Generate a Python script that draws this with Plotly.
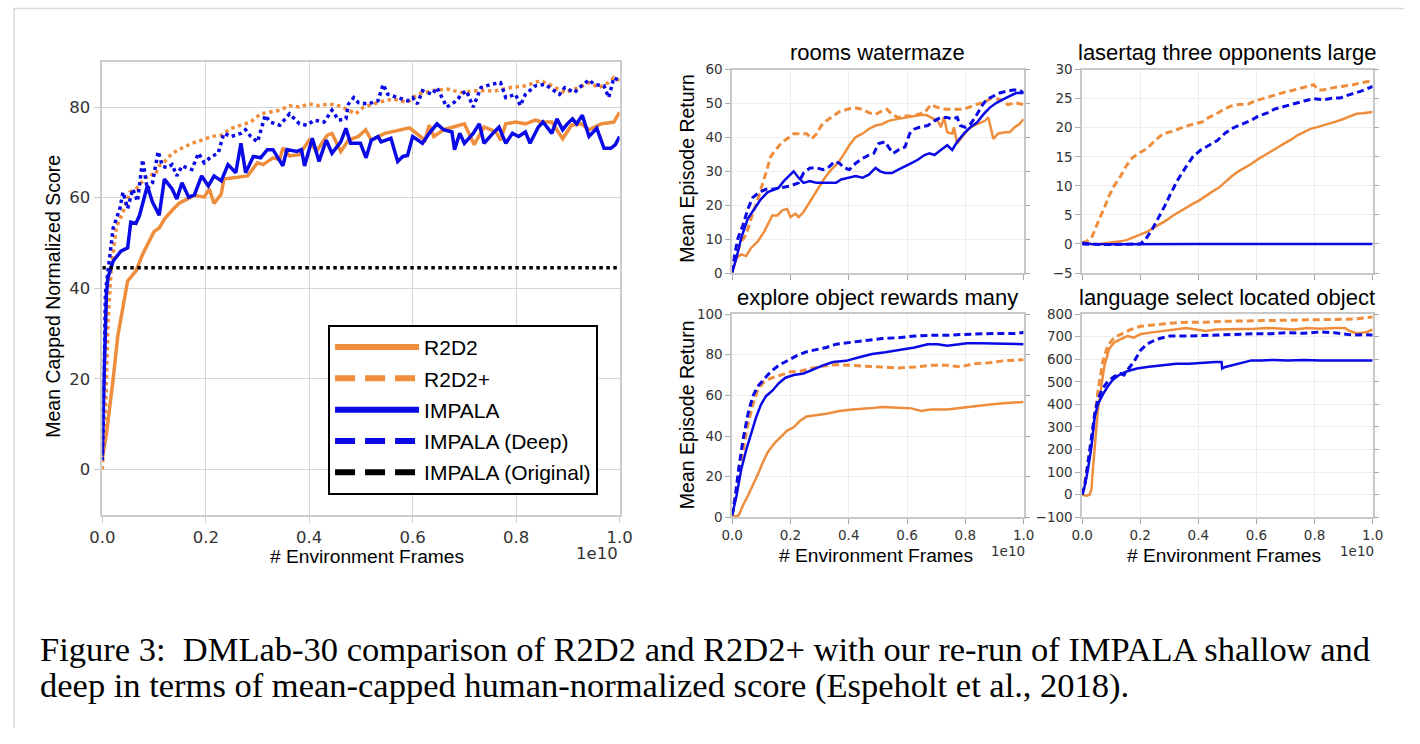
import plotly.graph_objects as go

# The page body keeps the browser's default 8px margin, so the figure is 16px smaller
# than the 1420x744 window and all reference pixel positions are shifted by that margin.
PAGE_W, PAGE_H, BODY_MARGIN = 1420, 744, 8
W, H = PAGE_W - 2 * BODY_MARGIN, PAGE_H - 2 * BODY_MARGIN
ORANGE = '#EE8E3D'
BLUE = '#0A0AE6'

# ---------------- data (x in units of 1e10 environment frames) ----------------
MAIN_R2D2 = [(0, 2.4), (.008, 7.8), (.021, 20), (.030, 29.5), (.049, 41.6), (.065, 43.8), (.078, 47.5),
             (.091, 50.3), (.10, 52.5), (.11, 53.3), (.121, 55.4), (.135, 57.2), (.148, 58.7), (.159, 59.4),
             (.178, 60.5), (.197, 60.1), (.207, 61.9), (.216, 58.7), (.23, 60.8), (.235, 64.1), (.254, 64.4),
             (.281, 64.8), (.30, 67.7), (.311, 67.3), (.33, 68.8), (.343, 68.4), (.349, 71), (.362, 69.2),
             (.381, 69.5), (.40, 72.7), (.414, 70.2), (.435, 73.8), (.444, 74.2), (.461, 70.2), (.476, 72.7),
             (.495, 73.5), (.509, 75), (.52, 72.7), (.546, 74.2), (.584, 75), (.594, 75.4), (.624, 72.7),
             (.632, 76), (.641, 73.5), (.66, 75), (.70, 76.3), (.719, 71.7), (.738, 75.6), (.761, 74.5),
             (.77, 72.7), (.78, 76.3), (.799, 76.7), (.818, 76.3), (.837, 77.1), (.85, 76.7), (.869, 76.7),
             (.89, 73), (.907, 76), (.926, 76.3), (.941, 75), (.964, 76.3), (.989, 76.7), (1.0, 78.9)]

MAIN_R2D2_PLUS = [(0, 0), (.006, 12), (.011, 32.3), (.017, 44), (.027, 53.3), (.04, 56.8), (.053, 61.2),
                  (.065, 61.9), (.078, 63.7), (.091, 65.2), (.102, 65), (.11, 67), (.121, 68), (.135, 69.8),
                  (.148, 70.6), (.159, 71.3), (.173, 72), (.192, 72.7), (.211, 73.5), (.23, 73.8), (.249, 75.3),
                  (.268, 76), (.287, 76.7), (.306, 78.5), (.324, 78.9), (.343, 79.3), (.362, 80.3), (.381, 80),
                  (.40, 80.7), (.419, 80.3), (.438, 80.7), (.457, 80.3), (.476, 79.3), (.49, 78.5), (.505, 80),
                  (.533, 81), (.562, 81.8), (.59, 81), (.609, 82.8), (.638, 83.6), (.666, 84), (.694, 83.2),
                  (.723, 83.6), (.761, 83.6), (.789, 84.3), (.818, 84.7), (.846, 85.8), (.865, 85), (.894, 83.2),
                  (.922, 84.3), (.941, 85.4), (.96, 84.3), (.979, 85.4), (.989, 86.5), (1.0, 85.8)]

MAIN_IMPALA = [(0, 3), (.002, 15), (.008, 38.8), (.011, 42.4), (.021, 46), (.036, 48.2), (.049, 48.9),
               (.055, 54.6), (.065, 54.3), (.072, 56.1), (.087, 62.6), (.097, 59), (.11, 56.1), (.12, 64.1),
               (.135, 61.9), (.144, 59.7), (.154, 63.3), (.167, 60.1), (.178, 60.6), (.192, 64.8), (.205, 62.6),
               (.216, 64.8), (.23, 63.7), (.243, 67.3), (.258, 65.5), (.268, 72), (.277, 65.5), (.292, 69.1),
               (.306, 68.8), (.319, 70.6), (.33, 70.6), (.349, 67), (.357, 70.6), (.376, 70.2), (.385, 70.6),
               (.391, 67), (.406, 73.1), (.419, 68), (.433, 72.7), (.444, 69.8), (.461, 72.3), (.471, 75.3),
               (.48, 72), (.499, 72), (.51, 68.8), (.52, 72.7), (.533, 73.5), (.539, 72.3), (.558, 73.1),
               (.571, 68), (.581, 69.1), (.59, 69.3), (.60, 73.5), (.619, 72), (.632, 74.2), (.647, 76.3),
               (.66, 75), (.676, 74.5), (.681, 70.6), (.691, 74.2), (.70, 72), (.717, 74.2), (.729, 76.3),
               (.738, 72), (.755, 74.2), (.767, 75.6), (.78, 72), (.793, 74.2), (.805, 73.5), (.818, 74.5),
               (.827, 72), (.843, 75.6), (.852, 76.7), (.869, 74.2), (.879, 77.4), (.89, 75), (.899, 76.3),
               (.909, 77.4), (.917, 76.3), (.928, 78.2), (.941, 73.5), (.956, 75.3), (.97, 70.9), (.983, 70.9),
               (.992, 71.7), (1.0, 73.5)]

MAIN_IMPALA_DEEP = [(0, 2), (.002, 10.6), (.006, 38.8), (.008, 41), (.021, 53.3), (.034, 57.6), (.04, 61.2),
                    (.049, 57.6), (.059, 61.9), (.068, 59.2), (.078, 68.4), (.087, 61.9), (.097, 63.3),
                    (.108, 70.2), (.116, 67), (.125, 66.6), (.135, 67.3), (.144, 64.8), (.154, 67), (.173, 66.2),
                    (.186, 69.8), (.197, 67.7), (.211, 69.1), (.224, 69.8), (.235, 74.2), (.249, 73.5),
                    (.268, 74.2), (.277, 75), (.287, 73.5), (.30, 72.3), (.315, 78.2), (.324, 76.7), (.343, 76),
                    (.362, 78.5), (.381, 76.3), (.395, 76), (.41, 77.1), (.429, 76.7), (.444, 79.3), (.457, 77.1),
                    (.471, 77.4), (.476, 80.7), (.486, 82.1), (.495, 81), (.514, 80.7), (.533, 81.4), (.543, 85),
                    (.552, 82.8), (.571, 82.1), (.59, 81.4), (.60, 82.1), (.609, 80.7), (.619, 83.6), (.638, 82.8),
                    (.647, 84.3), (.657, 82.1), (.666, 80), (.685, 81.4), (.694, 82.8), (.704, 83.6), (.717, 80),
                    (.732, 84.3), (.751, 85), (.77, 85.4), (.78, 82.1), (.799, 82.8), (.808, 80.3), (.818, 82.8),
                    (.837, 84.7), (.856, 85), (.875, 83.6), (.884, 82.8), (.894, 84.3), (.913, 83.2), (.922, 84.3),
                    (.941, 86), (.951, 85), (.97, 84.7), (.979, 82.1), (.989, 86.5), (1.0, 85.8)]

MAIN_IMPALA_ORIGINAL = [(0.0, 44.5), (1.0, 44.5)]

# rooms watermaze
WM_R2D2 = [(0, .2), (.015, 4.5), (.031, 5.5), (.048, 5), (.065, 7.4), (.088, 9.3), (.11, 12.2), (.127, 15.1),
           (.138, 17), (.155, 17), (.172, 18.5), (.189, 18.9), (.2, 16.5), (.217, 17.5), (.228, 16.5), (.245, 18),
           (.262, 20.4), (.278, 22.8), (.301, 25.7), (.318, 28.1), (.34, 30.5), (.363, 32.4), (.385, 35.3),
           (.402, 37.7), (.424, 40.1), (.447, 41.1), (.469, 42.5), (.492, 43.5), (.514, 43.9), (.536, 44.9),
           (.565, 45.4), (.593, 45.9), (.626, 46.3), (.649, 46.6), (.666, 46.6), (.682, 45.9), (.705, 44.9),
           (.716, 43), (.727, 45.9), (.738, 41.5), (.755, 41.1), (.761, 43), (.772, 38.2), (.789, 40.1),
           (.806, 42), (.828, 43.5), (.851, 44.4), (.868, 44.9), (.879, 45.9), (.896, 39.6), (.912, 41.1),
           (.935, 41.5), (.952, 41.5), (.969, 43), (.985, 43.9), (1.0, 45.4)]
WM_R2D2_PLUS = [(0, .2), (.015, 5.5), (.031, 9.3), (.048, 11.3), (.065, 16.1), (.088, 21.8), (.116, 29.5),
                (.132, 34.3), (.149, 36.3), (.172, 38.7), (.189, 39.6), (.211, 41.1), (.233, 41.1), (.256, 41.1),
                (.273, 39.6), (.29, 41.1), (.306, 43.5), (.323, 44.9), (.346, 46.3), (.368, 47.6), (.396, 48.3),
                (.419, 48.8), (.447, 48.3), (.469, 47.3), (.492, 46.8), (.514, 47.8), (.531, 48.3), (.548, 46.8),
                (.57, 45.9), (.593, 46.3), (.615, 46.3), (.637, 46.8), (.66, 47.3), (.682, 49.7), (.705, 48.8),
                (.733, 48.3), (.761, 48.3), (.783, 48.3), (.811, 48.8), (.834, 49.7), (.862, 50.2), (.89, 51.6),
                (.918, 51.2), (.946, 49.7), (.974, 50.2), (1.0, 49.7)]
WM_IMPALA = [(0, .2), (.015, 4.5), (.031, 10.3), (.054, 16.1), (.076, 18.9), (.099, 21.8), (.121, 23.8),
             (.144, 24.7), (.16, 25.2), (.177, 27.1), (.194, 28.6), (.211, 30), (.228, 28.1), (.245, 26.6),
             (.267, 27.1), (.29, 26.6), (.312, 26.6), (.334, 26.6), (.357, 26.6), (.374, 27.6), (.402, 28.1),
             (.424, 28.6), (.447, 28.1), (.469, 29), (.492, 31), (.508, 30), (.525, 29.5), (.548, 29.5),
             (.57, 30.5), (.593, 31.4), (.615, 32.4), (.637, 33.4), (.66, 34.8), (.677, 35.3), (.694, 34.8),
             (.716, 36.3), (.738, 37.7), (.755, 36.3), (.772, 38.7), (.795, 41.1), (.817, 43), (.84, 44.4),
             (.862, 46.8), (.884, 48.8), (.907, 50.2), (.929, 51.2), (.952, 52.1), (.974, 53.1), (1.0, 53.1)]
WM_IMPALA_DEEP = [(0, .2), (.009, 5.5), (.02, 10.3), (.037, 14.1), (.054, 18.9), (.071, 22.3), (.093, 23.8),
                  (.116, 24.7), (.138, 24.7), (.166, 25.2), (.2, 25.7), (.228, 26.6), (.245, 29.5), (.267, 31),
                  (.29, 31), (.312, 30.5), (.334, 31.4), (.351, 32.9), (.368, 32.4), (.385, 31), (.402, 30.5),
                  (.424, 32.4), (.447, 33.8), (.469, 34.8), (.486, 35.3), (.503, 38.2), (.525, 38.7), (.536, 37.2),
                  (.553, 35.3), (.57, 36.3), (.593, 37.2), (.609, 41.1), (.626, 42.5), (.643, 43), (.671, 43.5),
                  (.694, 44.9), (.716, 45.9), (.738, 45.9), (.755, 45.4), (.772, 45.9), (.783, 43.5), (.8, 43),
                  (.817, 43.9), (.834, 45.9), (.856, 49.2), (.873, 51.2), (.896, 52.1), (.918, 53.1), (.941, 53.6),
                  (.963, 54), (.985, 54), (1.0, 53.1)]

# lasertag three opponents large
LT_R2D2 = [(0, .2), (.032, 0), (.065, .05), (.099, .2), (.133, .45), (.155, .7), (.178, 1.1), (.2, 1.6),
           (.223, 2.1), (.245, 2.7), (.268, 3.4), (.291, 4.1), (.313, 4.9), (.336, 5.6), (.358, 6.3), (.381, 6.9),
           (.403, 7.5), (.426, 8.3), (.448, 9), (.471, 9.7), (.493, 10.7), (.516, 11.7), (.538, 12.5),
           (.561, 13.1), (.583, 13.8), (.606, 14.6), (.628, 15.3), (.651, 16), (.673, 16.6), (.696, 17.3),
           (.718, 17.9), (.741, 18.7), (.764, 19.2), (.786, 19.8), (.809, 20.1), (.831, 20.4), (.854, 20.8),
           (.876, 21.1), (.899, 21.5), (.921, 22), (.944, 22.4), (.966, 22.5), (1.0, 22.7)]
LT_R2D2_PLUS = [(0, .2), (.015, .45), (.032, 1), (.043, 2.4), (.06, 4.4), (.077, 6.3), (.093, 8.3), (.11, 10),
                (.133, 11.7), (.15, 13.3), (.172, 14.8), (.195, 15.6), (.223, 16.4), (.251, 17.8), (.279, 19),
                (.313, 19.4), (.347, 20.1), (.381, 20.6), (.414, 21), (.437, 21.8), (.459, 22.3), (.482, 23),
                (.51, 23.7), (.538, 24), (.572, 24.1), (.595, 24.6), (.628, 25.1), (.662, 25.7), (.696, 26.1),
                (.73, 26.5), (.764, 26.9), (.797, 27.4), (.814, 26.5), (.831, 26.5), (.865, 26.9), (.899, 27.1),
                (.932, 27.4), (.966, 27.8), (1.0, 28.1)]
LT_IMPALA = [(0, .2), (.03, 0), (.1, -.05), (.2, 0), (.4, 0), (.6, 0), (.8, 0), (1.0, 0)]
LT_IMPALA_DEEP = [(0, 0), (.088, -.1), (.2, 0), (.217, .7), (.24, 2.4), (.262, 4.4), (.285, 6.6), (.307, 8.9),
                  (.33, 11.1), (.358, 13.3), (.381, 15), (.409, 16.2), (.437, 17), (.465, 17.8), (.493, 19.1),
                  (.521, 20), (.55, 20.6), (.583, 21.3), (.606, 22), (.64, 22.6), (.662, 23.2), (.696, 23.7),
                  (.73, 24.1), (.764, 24.6), (.797, 25), (.831, 24.8), (.865, 25.1), (.887, 25.1), (.921, 25.7),
                  (.955, 26.2), (1.0, 27.1)]

# explore object rewards many
EX_R2D2 = [(0, 1), (.009, .2), (.023, 1), (.037, 5.8), (.054, 10.6), (.071, 15.4), (.088, 21), (.104, 26.6),
           (.121, 31.8), (.144, 36.3), (.166, 39.5), (.189, 42.7), (.211, 44.3), (.233, 47.5), (.256, 49.6),
           (.29, 50.2), (.323, 51), (.368, 52.3), (.413, 53.1), (.469, 53.6), (.514, 54.3), (.57, 53.9),
           (.615, 53.6), (.649, 52.3), (.682, 53.1), (.738, 53.1), (.783, 53.9), (.828, 54.7), (.884, 55.5),
           (.941, 56.3), (1.0, 56.7)]
EX_R2D2_PLUS = [(0, 1), (.011, 9), (.022, 20.2), (.037, 33), (.054, 45.9), (.071, 55.5), (.088, 62.8),
                (.11, 66.8), (.138, 68.7), (.166, 70), (.2, 71.6), (.233, 71.9), (.267, 73.2), (.312, 74.5),
                (.357, 75.1), (.402, 74.8), (.458, 74.3), (.514, 74), (.57, 73.5), (.626, 74), (.682, 74.8),
                (.738, 74.8), (.783, 74), (.828, 75.6), (.884, 76.1), (.941, 77.2), (1.0, 77.5)]
EX_IMPALA = [(0, 1), (.015, 10.6), (.031, 23.4), (.048, 33), (.065, 41.1), (.082, 49.1), (.099, 55.5),
             (.116, 59.6), (.138, 62.3), (.16, 66), (.183, 68.7), (.211, 70), (.245, 70.8), (.278, 72.9),
             (.312, 74.8), (.346, 76.4), (.391, 77), (.436, 78.8), (.48, 80.4), (.525, 81.2), (.581, 82.5),
             (.626, 83.6), (.671, 85.2), (.705, 85.2), (.738, 84.4), (.772, 85.2), (.806, 85.7), (.851, 85.7),
             (.896, 85.6), (.941, 85.7), (1.0, 85.2)]
EX_IMPALA_DEEP = [(0, 1), (.011, 10.6), (.022, 23.4), (.037, 37.9), (.054, 50.7), (.071, 59.6), (.088, 64.4),
                  (.11, 68), (.132, 71.6), (.16, 74.8), (.189, 77.2), (.222, 79.6), (.256, 81.5), (.29, 82.5),
                  (.323, 83.6), (.357, 85.2), (.402, 86), (.458, 86.8), (.514, 88), (.57, 88.4), (.626, 89.2),
                  (.682, 89.6), (.738, 89.6), (.795, 90), (.851, 90.4), (.907, 90.5), (.963, 90.4), (1.0, 90.9)]

# language select located object
LS_R2D2 = [(0, 0), (.015, -5), (.026, 0), (.032, 24), (.037, 111), (.045, 255), (.054, 371), (.065, 472),
           (.077, 573), (.093, 645), (.11, 674), (.133, 689), (.155, 703), (.178, 696), (.2, 711), (.234, 718),
           (.279, 725), (.324, 732), (.358, 739), (.392, 732), (.426, 725), (.459, 732), (.505, 732), (.55, 732),
           (.595, 735), (.64, 739), (.685, 735), (.73, 732), (.775, 739), (.82, 735), (.865, 739), (.904, 739),
           (.921, 725), (.944, 715), (.966, 718), (.983, 722), (1.0, 732)]
LS_R2D2_PLUS = [(0, 0), (.009, 53), (.02, 140), (.032, 226), (.043, 342), (.056, 472), (.071, 588), (.088, 660),
                (.11, 696), (.133, 711), (.167, 732), (.2, 746), (.257, 754), (.313, 761), (.369, 764),
                (.426, 764), (.482, 768), (.595, 771), (.707, 775), (.82, 775), (.932, 778), (1.0, 787)]
LS_IMPALA = [(0, 0), (.009, 39), (.02, 111), (.032, 212), (.043, 342), (.054, 400), (.071, 443), (.088, 479),
             (.105, 508), (.127, 530), (.155, 547), (.189, 559), (.223, 566), (.257, 570), (.291, 577),
             (.324, 580), (.369, 580), (.414, 585), (.459, 588), (.48, 588), (.482, 559), (.493, 566),
             (.516, 573), (.55, 585), (.583, 595), (.617, 595), (.662, 597), (.707, 595), (.764, 597),
             (.82, 595), (.876, 595), (.932, 597), (1.0, 595)]
LS_IMPALA_DEEP = [(0, 0), (.009, 39), (.02, 140), (.032, 255), (.043, 356), (.054, 421), (.071, 472),
                  (.088, 501), (.11, 523), (.133, 537), (.144, 530), (.155, 551), (.178, 588), (.2, 638),
                  (.223, 667), (.257, 689), (.302, 703), (.369, 703), (.426, 706), (.482, 707), (.538, 710),
                  (.595, 713), (.651, 713), (.707, 718), (.764, 715), (.82, 721), (.865, 718), (.899, 711),
                  (.932, 707), (.966, 709), (1.0, 707)]

SERIES_NAMES = ['R2D2', 'R2D2+', 'IMPALA', 'IMPALA (Deep)', 'IMPALA (Original)']
SUBPLOT_TITLES = ['rooms watermaze', 'lasertag three opponents large',
                  'explore object rewards many', 'language select located object']
X_TICKS = [0, 0.2, 0.4, 0.6, 0.8, 1.0]
X_TICKTEXT = ['0.0', '0.2', '0.4', '0.6', '0.8', '1.0']
MAIN_Y_TICKS = [0, 20, 40, 60, 80]
WM_Y_TICKS = [0, 10, 20, 30, 40, 50, 60]
LT_Y_TICKS = [-5, 0, 5, 10, 15, 20, 25, 30]
EX_Y_TICKS = [0, 20, 40, 60, 80, 100]
LS_Y_TICKS = [-100, 0, 100, 200, 300, 400, 500, 600, 700, 800]
CAPTION_LINE1 = 'Figure 3:\u00a0 DMLab-30 comparison of R2D2 and R2D2+ with our re-run of IMPALA shallow and'
CAPTION_LINE2 = 'deep in terms of mean-capped human-normalized score (Espeholt et al., 2018).'


# ---------------- layout helpers (arguments are page pixels) ----------------
def PX(x):
    return (x - BODY_MARGIN) / W


def PY(y):
    return 1 - (y - BODY_MARGIN) / H


SANS = 'Liberation Sans, Arial, sans-serif'
TICKF = 'DejaVu Sans, sans-serif'
SERIF = 'Liberation Serif, Times New Roman, serif'

fig = go.Figure()


def add_line(data, color, width, dash, xa, ya):
    xs = [p[0] for p in data]
    ys = [p[1] for p in data]
    fig.add_trace(go.Scatter(x=xs, y=ys, mode='lines', xaxis=xa, yaxis=ya, showlegend=False,
                             hoverinfo='skip', line=dict(color=color, width=width, dash=dash)))


# main chart
add_line(MAIN_R2D2, ORANGE, 3.5, 'solid', 'x', 'y')
add_line(MAIN_R2D2_PLUS, ORANGE, 3.5, 'dot', 'x', 'y')
add_line(MAIN_IMPALA, BLUE, 3.5, 'solid', 'x', 'y')
add_line(MAIN_IMPALA_DEEP, BLUE, 3.5, 'dot', 'x', 'y')
add_line(MAIN_IMPALA_ORIGINAL, 'black', 3.5, 'dot', 'x', 'y')

# legend entries
LEG_STYLE = [(ORANGE, 'solid'), (ORANGE, '20px,10px'), (BLUE, 'solid'), (BLUE, '20px,10px'), ('black', '20px,10px')]
for name, (c, d) in zip(SERIES_NAMES, LEG_STYLE):
    fig.add_trace(go.Scatter(x=[None], y=[None], mode='lines', name=name, xaxis='x', yaxis='y',
                             legendgroup=name, line=dict(color=c, width=6, dash=d)))

SUBDASH = '7px,4px'
for data4, (xa, ya) in [((WM_R2D2, WM_R2D2_PLUS, WM_IMPALA, WM_IMPALA_DEEP), ('x2', 'y2')),
                        ((LT_R2D2, LT_R2D2_PLUS, LT_IMPALA, LT_IMPALA_DEEP), ('x3', 'y3')),
                        ((EX_R2D2, EX_R2D2_PLUS, EX_IMPALA, EX_IMPALA_DEEP), ('x4', 'y4')),
                        ((LS_R2D2, LS_R2D2_PLUS, LS_IMPALA, LS_IMPALA_DEEP), ('x5', 'y5'))]:
    add_line(data4[0], ORANGE, 2.5, 'solid', xa, ya)
    add_line(data4[1], ORANGE, 3, SUBDASH, xa, ya)
    add_line(data4[2], BLUE, 2.5, 'solid', xa, ya)
    add_line(data4[3], BLUE, 3, SUBDASH, xa, ya)

main_common = dict(showgrid=True, gridcolor='#d6d6d6', gridwidth=1.3, showline=True, linecolor='#cdcdcd',
                   linewidth=1.5, mirror=True, ticks='outside', ticklen=7, tickwidth=1.3, tickcolor='#cdcdcd',
                   zeroline=False, tickfont=dict(family=TICKF, size=16.5, color='#333333'))

sub_common = dict(showgrid=True, gridcolor='#ededed', gridwidth=1, showline=True, linecolor='#c8c8c8',
                  linewidth=1.5, ticks='outside', ticklen=5, tickwidth=1.2, tickcolor='#a8a8a8',
                  zeroline=False, tickfont=dict(family=TICKF, size=13.5, color='#333333'))

# domains (page pixels)
MX = [PX(99), PX(626)]
MY = [PY(526), PY(63)]
CL = [PX(740.7), PX(1037.7)]
CR = [PX(1097.3), PX(1393.3)]
RT = [PY(279), PY(71)]
RB = [PY(528.7), PY(321)]

layout = dict(
    width=W, height=H, margin=dict(l=0, r=0, t=0, b=0), autosize=False,
    paper_bgcolor='white', plot_bgcolor='white', showlegend=True,
    xaxis=dict(domain=MX, range=[0, 1], tickvals=X_TICKS, ticktext=X_TICKTEXT, anchor='y', **main_common),
    yaxis=dict(domain=MY, range=[-10, 90], tickvals=MAIN_Y_TICKS, anchor='x', **main_common),
    xaxis2=dict(domain=CL, range=[0, 1], tickvals=X_TICKS, showticklabels=False, anchor='y2', mirror=True, **sub_common),
    yaxis2=dict(domain=RT, range=[0, 60], tickvals=WM_Y_TICKS, anchor='x2', mirror='ticks', **sub_common),
    xaxis3=dict(domain=CR, range=[0, 1], tickvals=X_TICKS, showticklabels=False, anchor='y3', mirror=True, **sub_common),
    yaxis3=dict(domain=RT, range=[-5, 30], tickvals=LT_Y_TICKS, anchor='x3', mirror='ticks', **sub_common),
    xaxis4=dict(domain=CL, range=[0, 1], tickvals=X_TICKS, ticktext=X_TICKTEXT, anchor='y4', mirror=True, **sub_common),
    yaxis4=dict(domain=RB, range=[0, 100], tickvals=EX_Y_TICKS, anchor='x4', mirror='ticks', **sub_common),
    xaxis5=dict(domain=CR, range=[0, 1], tickvals=X_TICKS, ticktext=X_TICKTEXT, anchor='y5', mirror=True, **sub_common),
    yaxis5=dict(domain=RB, range=[-100, 800], tickvals=LS_Y_TICKS, anchor='x5', mirror='ticks', **sub_common),
    legend=dict(x=PX(329), y=PY(332), xanchor='left', yanchor='top', bgcolor='white', bordercolor='black',
                borderwidth=2, font=dict(family=SANS, size=21, color='black'), itemwidth=84,
                tracegroupgap=1),
)
fig.update_layout(**layout)

ann = []


def text(x, y, t, size, family=SANS, color='black', angle=0, xanchor='center', yanchor='middle', align='center'):
    ann.append(dict(x=PX(x), y=PY(y), xref='paper', yref='paper', text=t, showarrow=False, textangle=angle,
                    xanchor=xanchor, yanchor=yanchor, align=align,
                    font=dict(family=family, size=size, color=color)))


# main chart labels
text(48, 303, 'Mean Capped Normalized Score', 19.5, angle=-90)
text(369, 569, '# Environment Frames', 19.2)
text(603, 566, '1e10', 16.5, family=TICKF, color='#333333')
# subplot titles
text(889, 53, SUBPLOT_TITLES[0], 22)
text(1245, 53, SUBPLOT_TITLES[1], 22)
text(889, 304, SUBPLOT_TITLES[2], 22)
text(1245, 304, SUBPLOT_TITLES[3], 22)
# subplot axis labels
text(695, 172, 'Mean Episode Return', 19.5, angle=-90)
text(695, 424, 'Mean Episode Return', 19.5, angle=-90)
text(887, 568, '# Environment Frames', 19.2)
text(1242, 568, '# Environment Frames', 19.2)
text(1022, 563, '1e10', 13.5, family=TICKF, color='#333333')
text(1377, 563, '1e10', 13.5, family=TICKF, color='#333333')
# caption: one two-line text; the base size sets the tight 36px line pitch, the spans set the glyph size
CAP_SPAN = '<span style="font-size:34.5px">%s</span>'
text(33, 682, (CAP_SPAN % CAPTION_LINE1) + '<br>' + (CAP_SPAN % CAPTION_LINE2), 27.7,
     family=SERIF, xanchor='left', align='left')

fig.update_layout(annotations=ann)

# card frame of the screenshot
fig.add_shape(type='rect', xref='paper', yref='paper', x0=PX(9), y0=-0.1, x1=1.1, y1=PY(8.5),
              line=dict(color='#d9d9d9', width=1.5), fillcolor='rgba(0,0,0,0)', layer='below')

fig.write_html('out.html', config={'responsive': False})
